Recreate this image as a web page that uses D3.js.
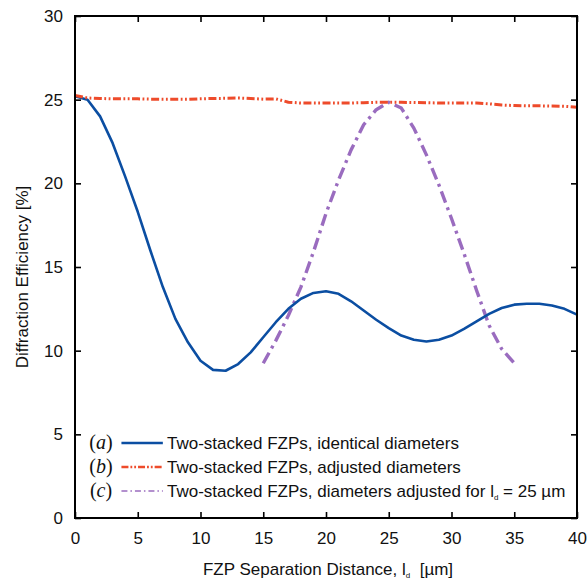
<!DOCTYPE html>
<html>
<head>
<meta charset="utf-8">
<script src="https://d3js.org/d3.v7.min.js"></script>
<style>
  body { margin: 0; background: #fff; }
  svg { display: block; font-family: 'Liberation Sans', Arial, sans-serif; }
</style>
</head>
<body>
<svg width="587" height="581"></svg>
<script>
// separation distance (um) and efficiency (%)
var xA = d3.range(0, 41);
var effA = [25.2, 25.0, 24.0, 22.4, 20.4, 18.3, 16.0, 13.8, 11.9, 10.5, 9.4,
            8.85, 8.8, 9.2, 9.9, 10.8, 11.7, 12.5, 13.1, 13.45, 13.55,
            13.4, 12.95, 12.4, 11.85, 11.35, 10.9, 10.65, 10.55, 10.65, 10.9,
            11.3, 11.75, 12.2, 12.55, 12.75, 12.8, 12.8, 12.7, 12.5, 12.15];
var effB = [25.25, 25.1, 25.07, 25.05, 25.05, 25.05, 25.03, 25.02, 25.02, 25.02, 25.05,
            25.07, 25.08, 25.1, 25.07, 25.03, 25.05, 24.85, 24.8, 24.8, 24.8,
            24.8, 24.8, 24.82, 24.84, 24.85, 24.84, 24.83, 24.82, 24.8, 24.8,
            24.8, 24.8, 24.75, 24.68, 24.65, 24.63, 24.63, 24.62, 24.6, 24.55];
var xC = d3.range(15, 36);
var effC = [9.25, 10.6, 12.1, 13.8, 15.9, 18.2, 20.2, 22.0, 23.5, 24.4, 24.85,
            24.5, 23.3, 21.7, 19.9, 17.9, 15.8, 13.6, 11.5, 10.1, 9.25];
var xTicks = [0, 5, 10, 15, 20, 25, 30, 35, 40];
var yTicks = [0, 5, 10, 15, 20, 25, 30];
var legendTags = ["a", "b", "c"];
var legendLabels = ["Two-stacked FZPs, identical diameters",
                    "Two-stacked FZPs, adjusted diameters",
                    "Two-stacked FZPs, diameters adjusted for "];

var svg = d3.select("svg");
var pLeft = 75, pRight = 577, pTop = 16, pBottom = 518;

var x = d3.scaleLinear().domain([0, 40]).range([pLeft, pRight]);
var y = d3.scaleLinear().domain([0, 30]).range([pBottom, pTop]);

var styles = [
  {color: "#0b4ea2", width: 2.6, dash: null},
  {color: "#ee4b2b", width: 3, dash: "8,2.5,1.8,2.5,1.8,2.5"},
  {color: "#9a6cbf", width: 3.4, dash: "12,5,3,5"}
];

var line = d3.line().x(function(d){ return x(d[0]); }).y(function(d){ return y(d[1]); });

var series = [
  xA.map(function(v, i){ return [v, effA[i]]; }),
  xA.map(function(v, i){ return [v, effB[i]]; }),
  xC.map(function(v, i){ return [v, effC[i]]; })
];

// draw c first, then a, then b on top
[2, 0, 1].forEach(function(k) {
  svg.append("path")
    .datum(series[k])
    .attr("d", line)
    .attr("fill", "none")
    .attr("stroke", styles[k].color)
    .attr("stroke-width", styles[k].width)
    .attr("stroke-dasharray", styles[k].dash)
    .attr("stroke-linejoin", "round");
});

// axes, ticks inward on all four sides
var xAxis = d3.axisBottom(x).tickValues(xTicks).tickSizeInner(-6).tickSizeOuter(0).tickPadding(14);
var yAxis = d3.axisLeft(y).tickValues(yTicks).tickSizeInner(-6).tickSizeOuter(0).tickPadding(12);
var gx = svg.append("g").attr("transform", "translate(0," + pBottom + ")").call(xAxis);
var gy = svg.append("g").attr("transform", "translate(" + pLeft + ",0)").call(yAxis);
var gx2 = svg.append("g").attr("transform", "translate(0," + pTop + ")")
  .call(d3.axisTop(x).tickValues(xTicks).tickSizeInner(-6).tickSizeOuter(0).tickFormat(""));
var gy2 = svg.append("g").attr("transform", "translate(" + pRight + ",0)")
  .call(d3.axisRight(y).tickValues(yTicks).tickSizeInner(-6).tickSizeOuter(0).tickFormat(""));

[gx, gy, gx2, gy2].forEach(function(g) {
  g.selectAll(".domain").remove();
  g.selectAll("line").attr("stroke", "#000").attr("stroke-width", 1.6);
  g.selectAll("text").attr("font-size", 17).attr("fill", "#111")
    .attr("font-family", "'Liberation Sans', Arial, sans-serif");
});

svg.append("rect")
  .attr("x", pLeft).attr("y", pTop)
  .attr("width", pRight - pLeft).attr("height", pBottom - pTop)
  .attr("fill", "none").attr("stroke", "#000").attr("stroke-width", 2);

// axis titles
var xt = svg.append("text")
  .attr("x", 328).attr("y", 575)
  .attr("text-anchor", "middle").attr("font-size", 17).attr("fill", "#111");
xt.append("tspan").text("FZP Separation Distance, l");
xt.append("tspan").attr("font-size", 8).attr("dy", 3).text("d");
xt.append("tspan").attr("dy", -3).text("\u00a0 [\u00b5m]");

svg.append("text")
  .attr("transform", "translate(28," + ((pTop + pBottom) / 2 + 10) + ") rotate(-90)")
  .attr("text-anchor", "middle").attr("font-size", 17).attr("fill", "#111")
  .text("Diffraction Efficiency [%]");

// legend
var legY = [443, 467, 491];
legendTags.forEach(function(tag, i) {
  var t = svg.append("text")
    .attr("x", 101).attr("y", legY[i] + 6)
    .attr("text-anchor", "middle")
    .attr("font-family", "'Liberation Serif', 'Times New Roman', serif")
    .attr("font-size", 20).attr("fill", "#111");
  t.append("tspan").text("(");
  t.append("tspan").attr("font-style", "italic").text(tag);
  t.append("tspan").text(")");

  svg.append("line")
    .attr("x1", x(3.7)).attr("x2", x(7.0))
    .attr("y1", legY[i]).attr("y2", legY[i])
    .attr("stroke", styles[i].color)
    .attr("stroke-width", i === 2 ? 1.4 : 2.6)
    .attr("stroke-dasharray", i === 0 ? null : (i === 1 ? "7,2,1.8,2,1.8,2" : "6,3,1.5,3"));

  var lt = svg.append("text")
    .attr("x", 167).attr("y", legY[i] + 6)
    .attr("font-size", 17).attr("fill", "#111")
    .text(legendLabels[i]);
  if (i === 2) {
    lt.append("tspan").text("l");
    lt.append("tspan").attr("font-size", 8).attr("dy", 3).text("d");
    lt.append("tspan").attr("dy", -3).text("\u00a0= 25 \u00b5m");
  }
});
</script>
</body>
</html>
